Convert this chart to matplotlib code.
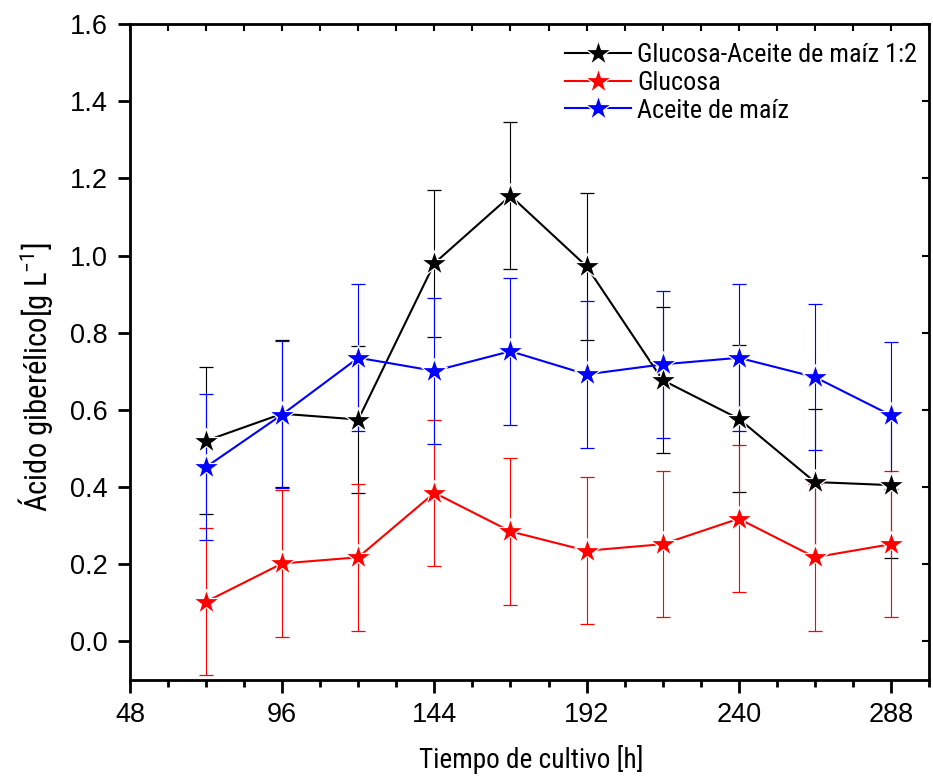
import matplotlib
matplotlib.use("Agg")
import matplotlib.pyplot as plt
from matplotlib import font_manager
from matplotlib.ticker import MultipleLocator
from matplotlib.lines import Line2D

# ---- data ----
tiempo = [72, 96, 120, 144, 168, 192, 216, 240, 264, 288]
mezcla = [0.52, 0.59, 0.575, 0.98, 1.155, 0.972, 0.677, 0.577, 0.413, 0.405]
mezcla_err = [0.19, 0.19, 0.19, 0.19, 0.19, 0.19, 0.19, 0.19, 0.19, 0.19]
glucosa = [0.103, 0.202, 0.218, 0.385, 0.285, 0.235, 0.252, 0.318, 0.218, 0.252]
glucosa_err = [0.19, 0.19, 0.19, 0.19, 0.19, 0.19, 0.19, 0.19, 0.19, 0.19]
aceite = [0.452, 0.588, 0.735, 0.701, 0.752, 0.692, 0.718, 0.735, 0.685, 0.586]
aceite_err = [0.19, 0.19, 0.19, 0.19, 0.19, 0.19, 0.19, 0.19, 0.19, 0.19]
labels = ["Glucosa-Aceite de maíz 1:2", "Glucosa", "Aceite de maíz"]
colors = ['black', '#ff0000', '#0000ff']
xticks = [48, 96, 144, 192, 240, 288]
yticks = [0.0, 0.2, 0.4, 0.6, 0.8, 1.0, 1.2, 1.4, 1.6]
xlabel = "Tiempo de cultivo [h]"
ylabel = "Ácido giberélico[g L$^{-1}$]"

names = {f.name for f in font_manager.fontManager.ttflist}
narrow = None
for cand in ["Roboto Condensed", "Archivo Narrow", "Barlow Condensed", "PT Sans Narrow", "Liberation Sans Narrow"]:
    if cand in names:
        narrow = cand
        break
if narrow is None:
    narrow = "Liberation Sans"
regular = "Liberation Sans" if "Liberation Sans" in names else "DejaVu Sans"

plt.rcParams['font.family'] = [regular, 'DejaVu Sans']
plt.rcParams['mathtext.fontset'] = 'custom'
plt.rcParams['mathtext.rm'] = narrow
plt.rcParams['mathtext.it'] = narrow
plt.rcParams['mathtext.default'] = 'regular'

W, H = 933, 783
fig = plt.figure(figsize=(W/100, H/100), dpi=100)
ax = fig.add_axes([130/W, 1-680/H, (929-130)/W, (680-24)/H])
renderer = fig.canvas.get_renderer()


def fit_size(s, family, target_px, dim='w', base=20.0, rotation=0):
    t = fig.text(0, 0, s, family=family, fontsize=base, rotation=rotation)
    bb = t.get_window_extent(renderer)
    t.remove()
    cur = bb.width if dim == 'w' else bb.height
    return base * target_px / cur


leg_size = fit_size(labels[0], narrow, 280)
xl_size = fit_size(xlabel, narrow, 224)
yl_size = fit_size(ylabel, narrow, 270, dim='h', rotation=90)

for vals, err, col, lab in zip([mezcla, glucosa, aceite], [mezcla_err, glucosa_err, aceite_err], colors, labels):
    ax.errorbar(tiempo, vals, yerr=err, color=col, lw=1.5, elinewidth=0.8,
                capsize=5, capthick=0.8, marker='*', markersize=19,
                markeredgecolor='white', markeredgewidth=0.9, label=lab)

ax.set_xlim(48, 300)
ax.set_ylim(-0.1, 1.6)
ax.set_xticks(xticks)
ax.set_yticks(yticks)
ax.set_yticklabels([f"{v:.1f}" for v in yticks])
ax.xaxis.set_minor_locator(MultipleLocator(12))
for s in ax.spines.values():
    s.set_linewidth(2)
ax.tick_params(axis='both', which='major', direction='out', length=9, width=2, labelsize=19.5, pad=7)
ax.tick_params(axis='x', which='minor', direction='out', length=5, width=2)

top = ax.secondary_xaxis('top')
top.set_xticks(xticks)
top.xaxis.set_minor_locator(MultipleLocator(12))
top.tick_params(which='both', direction='in', length=5, width=1.5, labeltop=False)
right = ax.secondary_yaxis('right')
right.set_yticks(yticks)
right.tick_params(which='both', direction='in', length=5, width=1.5, labelright=False)

ax.set_xlabel(xlabel, fontfamily=narrow, fontsize=xl_size)
ax.xaxis.set_label_coords((531-130)/799, (680-760)/656)
ax.xaxis.label.set_va('center')
ax.set_ylabel(ylabel, fontfamily=narrow, fontsize=yl_size)
ax.yaxis.set_label_coords((36-130)/799, (680-377)/656)
ax.yaxis.label.set_va('center')

handles = [Line2D([], [], color=c, lw=1.5, marker='*', markersize=19,
                  markeredgecolor='white', markeredgewidth=0.9) for c in colors]
fpx = leg_size * 100 / 72
row_h = 34.5
text_h = 1.17 * fpx
leg = ax.legend(handles, labels, loc='upper left',
                bbox_to_anchor=(565/W, 1 - (58 - text_h/2)/H), bbox_transform=fig.transFigure,
                frameon=False, prop={'family': narrow, 'size': leg_size},
                handlelength=66/fpx, handletextpad=6/fpx,
                labelspacing=max(0.0, (row_h - text_h)/fpx), borderpad=0, borderaxespad=0,
                numpoints=1)

fig.savefig("out.png", dpi=100)
